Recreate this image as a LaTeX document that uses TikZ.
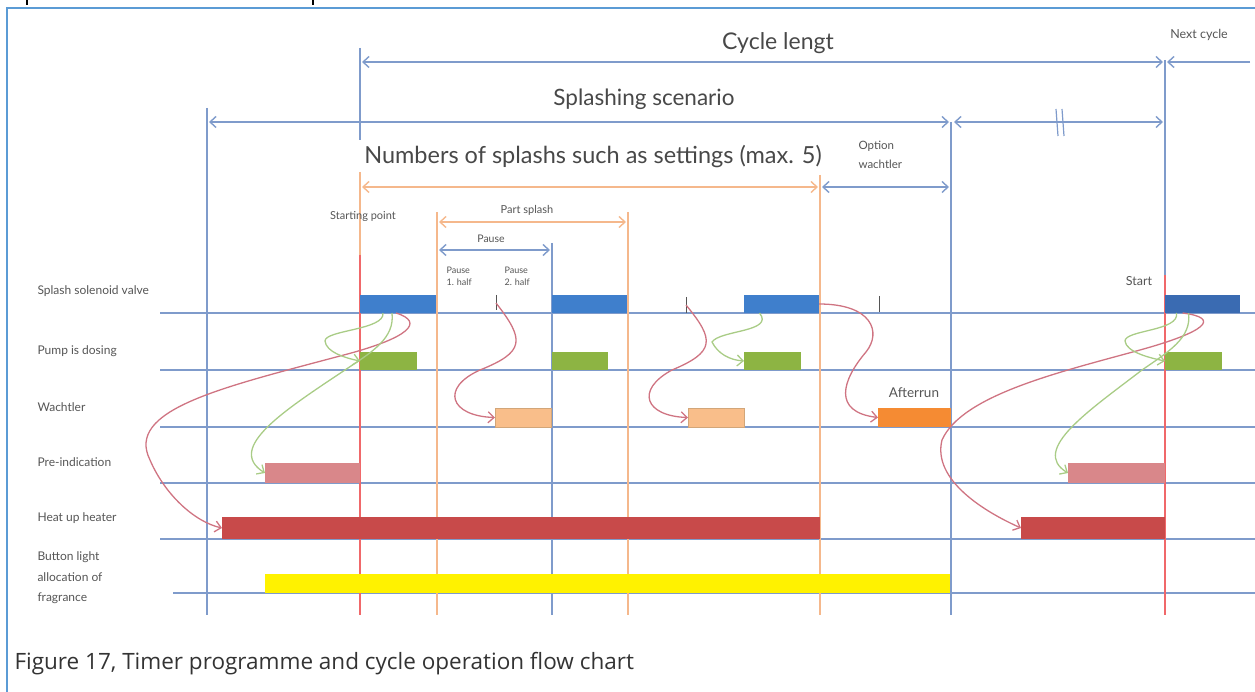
\documentclass[tikz,border=0pt]{standalone}
\usepackage{fontspec}
\setmainfont{Lato}
\newfontfamily\capfont{Open Sans}
\usetikzlibrary{arrows.meta}
\definecolor{guideblue}{HTML}{7F9BCB}
\definecolor{guideorange}{HTML}{F5B88C}
\definecolor{startred}{HTML}{F0686A}
\definecolor{valveblue}{HTML}{3F7FCC}
\definecolor{valvedark}{HTML}{3A6BB2}
\definecolor{pumpgreen}{HTML}{8DB443}
\definecolor{wachtorange}{HTML}{F9BE8A}
\definecolor{afterorange}{HTML}{F58B33}
\definecolor{preipink}{HTML}{D9878A}
\definecolor{heatred}{HTML}{C84A4A}
\definecolor{curvered}{HTML}{CF7482}
\definecolor{curvegreen}{HTML}{A9CC86}
\definecolor{labelgray}{HTML}{555555}
\begin{document}
\begin{tikzpicture}[x=1pt,y=-1pt,
    >={Straight Barb[length=6pt,width=11pt]},
    guide/.style={guideblue,line width=1.6pt},
    oguide/.style={guideorange,line width=1.4pt},
    dimblue/.style={<->,guideblue,line width=1.4pt},
    dimorange/.style={<->,guideorange,line width=1.4pt},
    rowline/.style={guideblue,line width=1.3pt},
    bar/.style={inner sep=0pt,outer sep=0pt,anchor=south west,minimum height=18pt},
    rowlabel/.style={anchor=west,font=\fontsize{12}{14}\selectfont,text=labelgray,align=left},
    smalllabel/.style={font=\fontsize{10.5}{12}\selectfont,text=labelgray,align=left},
    biglabel/.style={font=\fontsize{23}{27}\selectfont,text=labelgray!85!black},
    redcurve/.style={->,curvered,line width=1.3pt},
    greencurve/.style={->,curvegreen,line width=1.3pt}]
\useasboundingbox (0,0) rectangle (1255,692);
\draw[line width=1.5pt] (27,0) -- (27,5) (313,0) -- (313,5);
\draw[color={rgb,255:red,91;green,155;blue,213},line width=1.5pt] (1260,8) -- (7,8) -- (7,700);

% rows
\foreach \y in {313,370,427,483,539} \draw[rowline] (160,\y) -- (1255,\y);
\draw[rowline] (173,593) -- (1255,593);
\node[rowlabel] (lvalve) at (34,291) {Splash solenoid valve};
\node[rowlabel] (lpump) at (34,351) {Pump is dosing};
\node[rowlabel] (lwacht) at (34,407) {Wachtler};
\node[rowlabel] (lpre) at (34,462) {Pre-indication};
\node[rowlabel] (lheat) at (34,518) {Heat up heater};
\node[rowlabel,font=\fontsize{12}{20.5}\selectfont] (lbutton) at (34,578) {Button light\\allocation of\\fragrance};

% guide lines
\draw[guide] (207,108) -- (207,615);
\draw[guide] (360,48) -- (360,140);
\draw[oguide] (360,172) -- (360,255);
\draw[startred,line width=2pt] (360,255) -- (360,615);
\draw[oguide] (437,212) -- (437,615);
\draw[guide] (552,243) -- (552,615);
\draw[oguide] (628,212) -- (628,615);
\draw[oguide] (820,175) -- (820,615);
\draw[guide] (951,122) -- (951,615);
\draw[guide] (1165,60) -- (1165,275);
\draw[startred,line width=2.2pt] (1165,275) -- (1165,615);

% dimensions
\draw[dimblue] (362,62) -- (1163,62);
\node[biglabel] (cycle) at (778,43) {Cycle lengt};
\draw[->,guideblue,line width=1.4pt] (1250,62) -- (1167,62);
\node[smalllabel,font=\fontsize{12.5}{14}\selectfont] (next) at (1199,35) {Next cycle};
\draw[dimblue] (209,122) -- (949,122);
\draw[dimblue] (954,122) -- (1163,122);
\draw[guideblue,line width=1.2pt] (1056,109) -- (1058,136) (1062,109) -- (1064,136);
\node[biglabel,font=\fontsize{22.5}{27}\selectfont] (scen) at (644,99) {Splashing scenario};
\node[biglabel,font=\fontsize{23.5}{28}\selectfont] (numb) at (593,157) {Numbers of splashs such as settings (max. 5)};
\draw[dimorange] (362,187) -- (818,187);
\draw[dimblue] (822,187) -- (949,187);
\node[smalllabel,font=\fontsize{11.5}{19}\selectfont,anchor=west] (opt) at (855,155) {Option\\wachtler};
\draw[dimorange] (439,222) -- (626,222);
\node[smalllabel,font=\fontsize{11}{12}\selectfont] (part) at (527,210) {Part splash};
\draw[dimblue] (439,250) -- (550,250);
\node[smalllabel] (pause) at (491,239) {Pause};
\node[smalllabel,font=\fontsize{9}{12}\selectfont,anchor=north west] (ph1) at (443,264) {Pause\\1. half};
\node[smalllabel,font=\fontsize{9}{12}\selectfont,anchor=north west] (ph2) at (501,264) {Pause\\2. half};
\node[smalllabel,font=\fontsize{11}{12}\selectfont] (startp) at (363,216) {Starting point};
\node[smalllabel,font=\fontsize{12.5}{14}\selectfont] (start) at (1139,281) {Start};
\node[smalllabel,font=\fontsize{13.5}{15}\selectfont] (after) at (914,393) {Afterrun};

% pause ticks
\coordinate (t1) at (496,303);
\coordinate (t2) at (686,305);
\coordinate (t3) at (879,304);
\draw[labelgray,line width=0.8pt] (496,295) -- (496,310) (686,297) -- (686,313) (879,296) -- (879,312);

% bars
\node[bar,fill=valveblue,minimum width=76pt] (v1) at (360,313) {};
\node[bar,fill=valveblue,minimum width=75pt] (v2) at (552,313) {};
\node[bar,fill=valveblue,minimum width=75pt] (v3) at (744,313) {};
\node[bar,fill=valvedark,minimum width=75pt] (v4) at (1165,313) {};
\node[bar,fill=pumpgreen,minimum width=57pt] (p1) at (360,370) {};
\node[bar,fill=pumpgreen,minimum width=56pt] (p2) at (552,370) {};
\node[bar,fill=pumpgreen,minimum width=57pt] (p3) at (744,370) {};
\node[bar,fill=pumpgreen,minimum width=57pt] (p4) at (1165,370) {};
\node[bar,fill=wachtorange,draw=brown!70,line width=0.6pt,minimum width=56pt,minimum height=19pt] (w1) at (495,427) {};
\node[bar,fill=wachtorange,draw=brown!70,line width=0.6pt,minimum width=56pt,minimum height=19pt] (w2) at (688,427) {};
\node[bar,fill=afterorange,minimum width=73pt,minimum height=19pt] (aft) at (878,427) {};
\node[bar,fill=preipink,minimum width=95pt,minimum height=20pt] (pi1) at (265,483) {};
\node[bar,fill=preipink,minimum width=97pt,minimum height=20pt] (pi2) at (1068,483) {};
\node[bar,fill=heatred,minimum width=598pt,minimum height=22pt] (h1) at (222,539) {};
\node[bar,fill=heatred,minimum width=144pt,minimum height=22pt] (h2) at (1021,539) {};
\node[bar,fill=yellow,minimum width=685pt,minimum height=19pt] (b1) at (265,593) {};

% trigger curves
\draw[redcurve] ([xshift=-2pt]v1.south) .. controls (425,322) and (410,338) .. (340,356)
  .. controls (220,388) and (125,410) .. (150,460) .. controls (165,495) and (195,522) .. (h1.west);
\draw[greencurve] ([xshift=-15pt]v1.south) .. controls (385,330) and (325,330) .. (325,341)
  .. controls (326,352) and (345,358) .. (p1.west);
\draw[greencurve] ([xshift=-6pt]v1.south) .. controls (395,338) and (372,352) .. (348,368)
  .. controls (285,410) and (225,448) .. (pi1.west);
\draw[redcurve] (t1) .. controls (525,340) and (525,352) .. (480,370)
  .. controls (440,388) and (450,416) .. (w1.west);
\draw[redcurve] (t2) .. controls (715,340) and (715,352) .. (672,370)
  .. controls (635,390) and (645,416) .. (w2.west);
\draw[greencurve] ([xshift=-22pt]v3.south) .. controls (775,332) and (720,330) .. (712,342)
  .. controls (718,354) and (730,360) .. (p3.west);
\draw[redcurve] (v3.east) .. controls (872,304) and (882,332) .. (866,352)
  .. controls (842,380) and (832,412) .. (aft.west);
\draw[redcurve] ([xshift=-20pt]v4.south) .. controls (1222,318) and (1205,332) .. (1140,350)
  .. controls (1060,372) and (962,395) .. (942,440) .. controls (932,480) and (985,512) .. (h2.west);
\draw[greencurve] ([xshift=-26pt]v4.south) .. controls (1180,331) and (1125,330) .. (1125,341)
  .. controls (1126,352) and (1150,358) .. (p4.west);
\draw[greencurve] ([xshift=-14pt]v4.south) .. controls (1192,338) and (1168,352) .. (1142,370)
  .. controls (1090,410) and (1030,450) .. (pi2.west);

\node[anchor=west,font=\capfont\fontsize{22.5}{27}\selectfont,text=black!80] (caption) at (11,664)
  {Figure 17, Timer programme and cycle operation flow chart};
\end{tikzpicture}
\end{document}
